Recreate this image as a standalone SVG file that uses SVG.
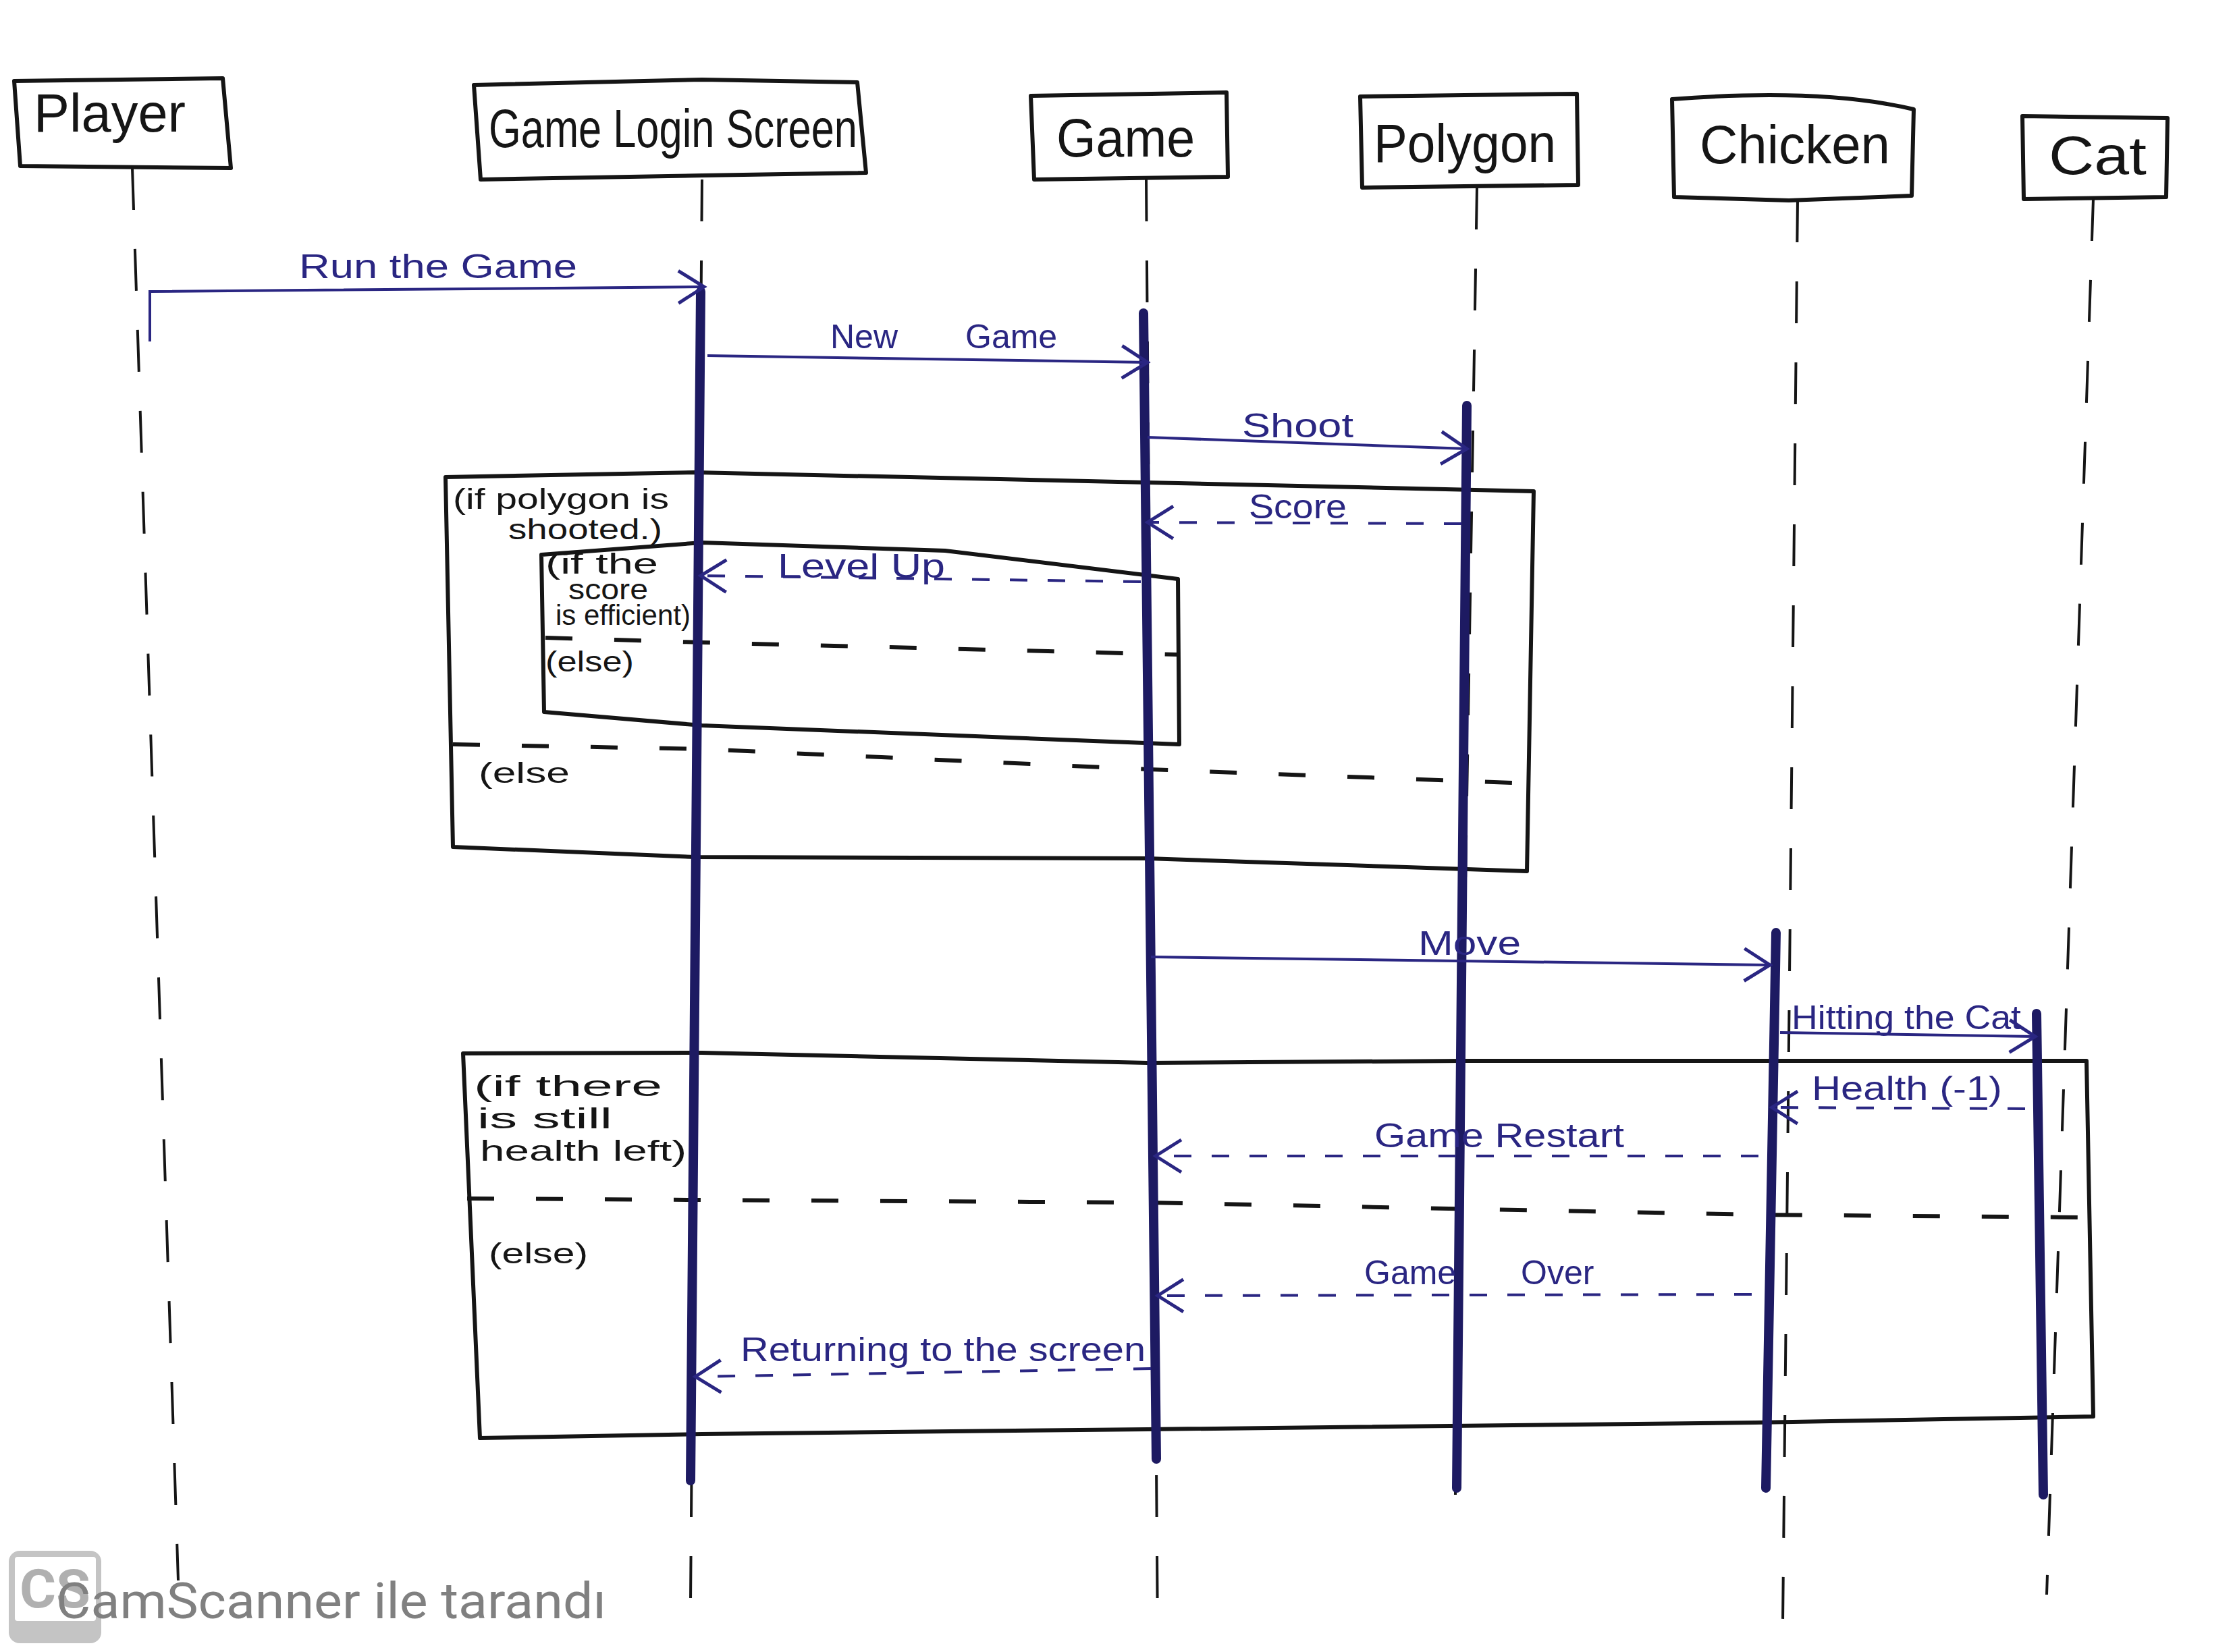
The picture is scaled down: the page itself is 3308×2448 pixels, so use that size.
<svg xmlns="http://www.w3.org/2000/svg" width="3308" height="2448" viewBox="0 0 3308 2448">
<style>
.box{fill:none;stroke:#151515;stroke-width:6;stroke-linejoin:round}
.name{font-family:"Liberation Sans",Arial,sans-serif;fill:#151515;font-size:80px}
.life{fill:none;stroke:#151515;stroke-width:4;stroke-dasharray:62 58}
.act{fill:none;stroke:#1d1a62;stroke-width:14;stroke-linecap:round}
.msg{fill:none;stroke:#2a2682;stroke-width:4}
.ret{fill:none;stroke:#2a2682;stroke-width:4;stroke-dasharray:26 30}
.lbl{font-family:"Liberation Sans",Arial,sans-serif;fill:#2a2682;font-size:50px}
.frame{fill:none;stroke:#151515;stroke-width:6;stroke-linejoin:round}
.sep{fill:none;stroke:#151515;stroke-width:6;stroke-dasharray:40 62}
.flbl{font-family:"Liberation Sans",Arial,sans-serif;fill:#151515;font-size:42px}
</style>
<defs>
<marker id="arr" viewBox="-44 -30 50 60" refX="0" refY="0" markerWidth="50" markerHeight="60" markerUnits="userSpaceOnUse" orient="auto">
<path d="M-38,-24 L0,0 L-38,24" fill="none" stroke="#2a2682" stroke-width="5"/>
</marker>
</defs>
<rect x="0" y="0" width="3308" height="2448" fill="#ffffff"/>

<g id="frames">
<g id="frame-polygon">
<path class="frame" d="M660,707 L1030,700 L1700,715 L2272,728 L2262,1291 L1700,1272 L1030,1270 L671,1255 Z"/>
<path class="sep" d="M671,1103 L1040,1110 L1700,1140 L2240,1160"/>
<text class="flbl" x="671" y="754" font-size="35" textLength="320" lengthAdjust="spacingAndGlyphs">(if polygon is</text>
<text class="flbl" x="753" y="799" font-size="35" textLength="228" lengthAdjust="spacingAndGlyphs">shooted.)</text>
<text class="flbl" x="709" y="1160" textLength="135" lengthAdjust="spacingAndGlyphs">(else</text>
</g>
<g id="frame-score">
<path class="frame" d="M802,822 L1040,804 L1400,816 L1745,858 L1747,1103 L1040,1075 L806,1055 Z"/>
<path class="sep" d="M808,945 L1040,952 L1747,970"/>
<text class="flbl" x="808" y="850" font-size="30" textLength="167" lengthAdjust="spacingAndGlyphs">(if the</text>
<text class="flbl" x="842" y="888" font-size="24" textLength="118" lengthAdjust="spacingAndGlyphs">score</text>
<text class="flbl" x="823" y="926" font-size="24" textLength="200" lengthAdjust="spacingAndGlyphs">is efficient)</text>
<text class="flbl" x="808" y="995" textLength="131" lengthAdjust="spacingAndGlyphs">(else)</text>
</g>
<g id="frame-health">
<path class="frame" d="M686,1561 L1040,1560 L1700,1575 L2170,1572 L3091,1572 L3101,2099 L2600,2108 L1700,2118 L1040,2125 L711,2131 Z"/>
<path class="sep" d="M692,1776 L1700,1782 L2600,1800 L3091,1804"/>
<text class="flbl" x="702" y="1624" textLength="279" lengthAdjust="spacingAndGlyphs">(if there</text>
<text class="flbl" x="707" y="1672" textLength="200" lengthAdjust="spacingAndGlyphs">is still</text>
<text class="flbl" x="711" y="1720" textLength="306" lengthAdjust="spacingAndGlyphs">health left)</text>
<text class="flbl" x="724" y="1872" textLength="147" lengthAdjust="spacingAndGlyphs">(else)</text>
</g>
</g>

<g id="node-player">
<path class="box" d="M21,120 L330,116 L342,249 L30,246 Z"/>
<text class="name" x="50" y="195" textLength="225" lengthAdjust="spacingAndGlyphs">Player</text>
</g>
<g id="node-gameloginscreen">
<path class="box" d="M702,126 L1040,118 L1270,122 L1283,256 L1040,260 L712,266 Z"/>
<text class="name" x="724" y="218" textLength="546" lengthAdjust="spacingAndGlyphs">Game Login Screen</text>
</g>
<g id="node-game">
<path class="box" d="M1527,142 L1817,137 L1819,262 L1532,266 Z"/>
<text class="name" x="1565" y="232" textLength="205" lengthAdjust="spacingAndGlyphs">Game</text>
</g>
<g id="node-polygon">
<path class="box" d="M2015,143 L2336,139 L2338,274 L2018,278 Z"/>
<text class="name" x="2035" y="240" textLength="270" lengthAdjust="spacingAndGlyphs">Polygon</text>
</g>
<g id="node-chicken">
<path class="box" d="M2477,147 Q2700,130 2835,162 L2832,290 L2650,297 L2480,292 Z"/>
<text class="name" x="2518" y="242" textLength="282" lengthAdjust="spacingAndGlyphs">Chicken</text>
</g>
<g id="node-cat">
<path class="box" d="M2996,172 L3211,175 L3209,292 L2998,295 Z"/>
<text class="name" x="3035" y="258" textLength="145" lengthAdjust="spacingAndGlyphs">Cat</text>
</g>

<g id="lifelines">
<path class="life" d="M196,249 L264,2342"/>
<path class="life" d="M1040,266 L1023,2373"/>
<path class="life" d="M1698,266 L1715,2426"/>
<path class="life" d="M2188,278 L2156,2215"/>
<path class="life" d="M2663,297 L2641,2405"/>
<path class="life" d="M3101,295 L3032,2363"/>
<path class="act" d="M1038,432 L1023,2194"/>
<path class="act" d="M1694,464 L1713,2162"/>
<path class="act" d="M2173,601 L2158,2205"/>
<path class="act" d="M2631,1382 L2616,2205"/>
<path class="act" d="M3017,1502 L3027,2215"/>
</g>

<g id="connectors">
<path class="msg" d="M222,506 L222,432 L1043,425" marker-end="url(#arr)"/>
<text class="lbl" x="443" y="412" textLength="412" lengthAdjust="spacingAndGlyphs">Run the Game</text>

<path class="msg" d="M1048,527 L1700,537" marker-end="url(#arr)"/>
<text class="lbl" y="516" font-size="54"><tspan x="1230">New </tspan><tspan x="1430">Game</tspan></text>

<path class="msg" d="M1700,648 L2173,665" marker-end="url(#arr)"/>
<text class="lbl" x="1840" y="648" textLength="165" lengthAdjust="spacingAndGlyphs">Shoot</text>

<path class="ret" d="M2165,776 L1700,774" marker-end="url(#arr)"/>
<text class="lbl" x="1850" y="768" textLength="145" lengthAdjust="spacingAndGlyphs">Score</text>

<path class="ret" d="M1690,862 L1038,853" marker-end="url(#arr)"/>
<text class="lbl" x="1152" y="856" font-size="40" textLength="248" lengthAdjust="spacingAndGlyphs">Level Up</text>

<path class="msg" d="M1705,1418 L2622,1430" marker-end="url(#arr)"/>
<text class="lbl" x="2101" y="1415" textLength="152" lengthAdjust="spacingAndGlyphs">Move</text>

<path class="msg" d="M2637,1530 L3015,1536" marker-end="url(#arr)"/>
<text class="lbl" x="2654" y="1525" textLength="340" lengthAdjust="spacingAndGlyphs" font-size="44">Hitting the Cat</text>

<path class="ret" d="M3000,1643 L2625,1641" marker-end="url(#arr)"/>
<text class="lbl" x="2684" y="1630" textLength="282" lengthAdjust="spacingAndGlyphs" font-size="46">Health (-1)</text>

<path class="ret" d="M2605,1713 L1712,1713" marker-end="url(#arr)"/>
<text class="lbl" x="2036" y="1700" textLength="370" lengthAdjust="spacingAndGlyphs">Game Restart</text>

<path class="ret" d="M2595,1918 L1715,1920" marker-end="url(#arr)"/>
<text class="lbl" y="1903"><tspan x="2021">Game </tspan><tspan x="2253">Over</tspan></text>

<path class="ret" d="M1705,2028 L1030,2040" marker-end="url(#arr)"/>
<text class="lbl" x="1097" y="2017" textLength="600" lengthAdjust="spacingAndGlyphs" font-size="46">Returning to the screen</text>
</g>

<g id="watermark">
<rect x="13" y="2298" width="137" height="137" rx="16" fill="#c4c4c4"/>
<rect x="22" y="2307" width="120" height="95" rx="4" fill="#ffffff"/>
<text x="29" y="2382" font-family="Roboto,'Liberation Sans',sans-serif" font-weight="bold" font-size="80" fill="#b0b0b0" textLength="105" lengthAdjust="spacingAndGlyphs">CS</text>
<text x="83" y="2398" font-family="Roboto,'Liberation Sans',sans-serif" font-size="74" fill="#808080" textLength="815" lengthAdjust="spacingAndGlyphs">CamScanner ile tarandı</text>
</g>
</svg>
